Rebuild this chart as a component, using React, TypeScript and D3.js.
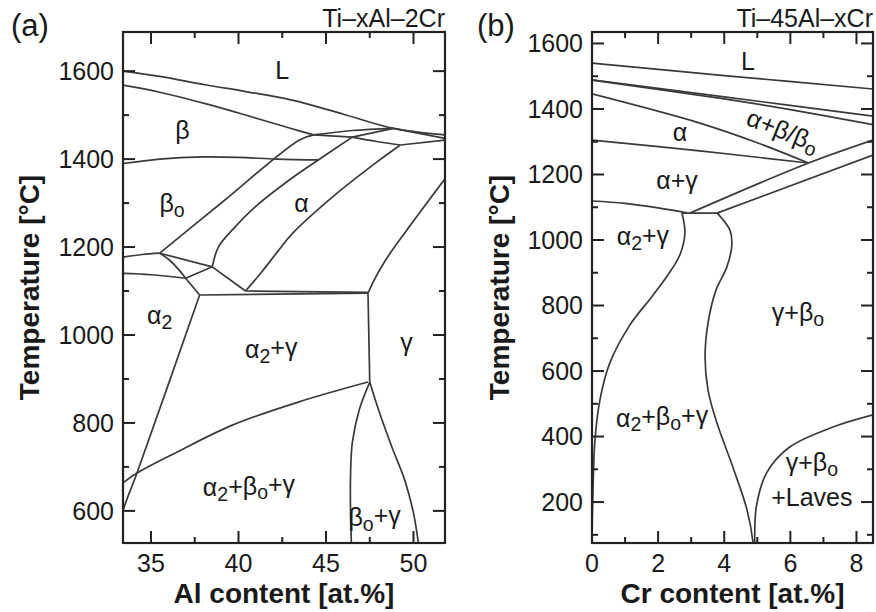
import React from "react";
import * as d3 from "d3";

type P = [number, number];

// ---------- Panel (a): Ti–xAl–2Cr ----------
const aTitle = "Ti\u2013xAl\u20132Cr";
const aXTicks = [35, 40, 45, 50];
const aXMinor = [37.5, 42.5, 47.5];
const aYTicks = [600, 800, 1000, 1200, 1400, 1600];
const aYMinor = [700, 900, 1100, 1300, 1500];

const aLiquidus: P[] = [[33.4, 1600], [35.5, 1588], [38.1, 1569], [40.5, 1553], [43.06, 1534], [46, 1502], [48.85, 1470], [51.8, 1455]];
const aBetaSolidus: P[] = [[33.4, 1568], [35.5, 1552], [38.1, 1526], [40.5, 1499], [43.06, 1469], [44.3, 1455]];
const aPeritecticUp: P[] = [[44.3, 1455], [46.5, 1465], [48.85, 1470]];
const aPeritecticLow: P[] = [[44.3, 1455], [46.5, 1450]];
const aPeritecticMid: P[] = [[46.5, 1450], [48.85, 1470]];
const aAlphaSolidus: P[] = [[46.5, 1450], [47.9, 1440], [49.25, 1432]];
const aRightTop1: P[] = [[49.25, 1432], [51.8, 1443]];
const aRightTop2: P[] = [[48.85, 1470], [51.8, 1447]];
const aBetaAlpha: P[] = [[35.5, 1186], [39.1, 1303], [43.46, 1443], [44.3, 1455]];
const aAlphaBeta: P[] = [[38.5, 1155], [38.85, 1200], [39.65, 1239], [40.97, 1292], [43.06, 1357], [44.6, 1399], [46.5, 1450]];
const aAlphaGamma: P[] = [[40.4, 1100], [41.3, 1142], [42.3, 1193], [43.06, 1230], [45.5, 1318], [47.9, 1393], [49.25, 1432]];
const aGammaAlpha: P[] = [[47.4, 1095], [47.75, 1125], [48.4, 1170], [49.5, 1232], [51.8, 1355]];
const aBetaOrder: P[] = [[33.4, 1390], [35.5, 1400], [37.9, 1405], [40, 1404], [42.2, 1400], [44.6, 1398]];
const aLeftUpper: P[] = [[33.4, 1177], [34.5, 1183], [35.5, 1186]];
const aJ5J6: P[] = [[35.5, 1186], [36.07, 1170], [36.6, 1148], [36.98, 1129], [37.78, 1091]];
const aJ5J7: P[] = [[35.5, 1186], [38.5, 1155]];
const aLeftLower: P[] = [[33.4, 1140], [35, 1137], [36.98, 1129]];
const aJunctionJ7: P[] = [[36.98, 1129], [38.5, 1155]];
const aJ7J8: P[] = [[38.5, 1155], [40.4, 1100]];
const aEutectoid1: P[] = [[37.78, 1091], [47.4, 1095]];
const aEutectoid2: P[] = [[40.4, 1100], [47.4, 1097]];
const aAlpha2Gamma: P[] = [[37.78, 1091], [34.2, 686], [33.4, 600], [33.25, 560]];
const aEutectoidLow: P[] = [[33.4, 664], [34.2, 686], [36.5, 734], [39.65, 795], [43.46, 848], [47.4, 893]];
const aVertical: P[] = [[47.4, 1095], [47.5, 893]];
const aBetaGammaLeft: P[] = [[47.5, 893], [46.9, 830], [46.5, 754], [46.4, 678], [46.4, 602], [46.45, 527]];
const aBetaGammaRight: P[] = [[47.5, 893], [48.0, 830], [48.76, 746], [49.5, 670], [50.0, 595], [50.28, 527]];

const aLines: P[][] = [aLiquidus, aBetaSolidus, aPeritecticUp, aPeritecticLow, aPeritecticMid, aAlphaSolidus, aRightTop1, aRightTop2,
  aBetaAlpha, aAlphaBeta, aAlphaGamma, aGammaAlpha, aBetaOrder, aLeftUpper, aJ5J6, aJ5J7, aLeftLower, aJunctionJ7, aJ7J8,
  aEutectoid1, aEutectoid2, aAlpha2Gamma, aEutectoidLow, aVertical, aBetaGammaLeft, aBetaGammaRight];

const aLabelText = ["L", "β", "β_o", "α", "α_2", "α_2+γ", "γ", "α_2+β_o+γ", "β_o+γ"];
const aLabelX = [42.5, 36.8, 36.2, 43.6, 35.5, 41.87, 49.6, 40.6, 47.78];
const aLabelT = [1603, 1465, 1300, 1300, 1045, 968, 984, 654, 586];

// ---------- Panel (b): Ti–45Al–xCr ----------
const bTitle = "Ti\u201345Al\u2013xCr";
const bXTicks = [0, 2, 4, 6, 8];
const bXMinor = [1, 3, 5, 7];
const bYTicks = [200, 400, 600, 800, 1000, 1200, 1400, 1600];
const bYMinor = [100, 300, 500, 700, 900, 1100, 1300, 1500];

const bLiquidus: P[] = [[0, 1540], [4, 1502], [8.5, 1461]];
const bSolidusA: P[] = [[0, 1489], [4, 1437], [8.5, 1378]];
const bSolidusB: P[] = [[0, 1488], [4, 1431], [6, 1398], [8.5, 1352]];
const bAlphaTop: P[] = [[0, 1446], [3.26, 1357], [5, 1297], [6.55, 1235]];
const bAlphaBottom: P[] = [[0, 1305], [3.26, 1272], [6.55, 1235]];
const bGammaBetaUpper: P[] = [[2.96, 1082], [6.55, 1235], [8.5, 1305]];
const bGammaBetaLower: P[] = [[3.78, 1082], [8.5, 1259]];
const bAlpha2GammaTop: P[] = [[0, 1119], [1.0, 1112], [2.0, 1098], [2.87, 1083]];
const bEutectoid: P[] = [[2.72, 1082], [3.85, 1082]];
const bAlpha2Right: P[] = [[2.72, 1083], [2.81, 1022], [2.66, 955], [2.3, 894], [1.81, 827], [1.15, 741], [0.54, 625], [0.24, 512], [0.09, 390], [0.03, 237], [0, 84], [0, 60]];
const bGammaBetaCurve: P[] = [[3.78, 1083], [4.17, 1031], [4.23, 985], [4.08, 918], [3.75, 847], [3.51, 747], [3.42, 643], [3.51, 542], [3.78, 441], [4.26, 307], [4.69, 176], [4.87, 78], [4.88, 60]];
const bLaves: P[] = [[4.92, 60], [4.92, 78], [4.97, 185], [5.28, 289], [5.98, 368], [7.29, 429], [8.5, 466]];

const bLines: P[][] = [bLiquidus, bSolidusA, bSolidusB, bAlphaTop, bAlphaBottom, bGammaBetaUpper, bGammaBetaLower,
  bAlpha2GammaTop, bEutectoid, bAlpha2Right, bGammaBetaCurve, bLaves];

const bLabelText = ["L", "α", "α+β/β_o", "α+γ", "α_2+γ", "γ+β_o", "α_2+β_o+γ", "γ+β_o", "+Laves"];
const bLabelX = [4.72, 2.66, 5.78, 2.57, 1.54, 6.23, 2.12, 6.65, 6.65];
const bLabelT = [1547, 1330, 1335, 1183, 1010, 780, 457, 322, 214];
const bLabelAngle = [0, 0, 22, 0, 0, 0, 0, 0, 0];

// ---------- layout ----------
const FONT = "'Liberation Sans', Arial, Helvetica, sans-serif";
const TOP = 32;
const BOTTOM = 543;
const LINE_COLOR = "#3a3a3a";
const TEXT_COLOR = "#1a1a1a";

function renderLabel(s: string) {
  // "_x" marks a single subscript character
  const segs: { t: string; sub: boolean }[] = [];
  let buf = "";
  for (let i = 0; i < s.length; i++) {
    if (s[i] === "_" && i + 1 < s.length) {
      if (buf) segs.push({ t: buf, sub: false });
      buf = "";
      segs.push({ t: s[i + 1], sub: true });
      i++;
    } else {
      buf += s[i];
    }
  }
  if (buf) segs.push({ t: buf, sub: false });
  let prevSub = false;
  return segs.map((sg, k) => {
    let dy: string | undefined;
    if (sg.sub) dy = "0.25em";
    else if (prevSub) dy = "-0.25em";
    prevSub = sg.sub;
    return (
      <tspan key={k} dy={dy} fontSize={sg.sub ? "0.78em" : undefined}>{sg.t}</tspan>
    );
  });
}

interface PanelProps {
  id: string;
  left: number;
  right: number;
  xDomain: [number, number];
  yDomain: [number, number];
  xTicks: number[];
  xMinor: number[];
  yTicks: number[];
  yMinor: number[];
  lines: P[][];
  labelText: string[];
  labelX: number[];
  labelT: number[];
  labelAngle?: number[];
  title: string;
  tag: string;
  tagX: number;
  xTitle: string;
  yTitleX: number;
}

function Panel(p: PanelProps) {
  const x = d3.scaleLinear().domain(p.xDomain).range([p.left, p.right]);
  const y = d3.scaleLinear().domain(p.yDomain).range([BOTTOM, TOP]);
  const line = d3.line<P>().x((d) => x(d[0])).y((d) => y(d[1])).curve(d3.curveCatmullRom.alpha(0.5));
  const major = 12;
  const minor = 6;
  const cx = (p.left + p.right) / 2;
  const cy = (TOP + BOTTOM) / 2;
  return (
    <g>
      <defs>
        <clipPath id={"clip-" + p.id}>
          <rect x={p.left} y={TOP} width={p.right - p.left} height={BOTTOM - TOP} />
        </clipPath>
      </defs>
      <g clipPath={`url(#clip-${p.id})`} fill="none" stroke={LINE_COLOR} strokeWidth={1.7} strokeLinejoin="round">
        {p.lines.map((l, i) => (
          <path key={i} d={line(l) || ""} />
        ))}
      </g>
      <g stroke="#222" strokeWidth={2}>
        {p.xTicks.map((t) => (
          <g key={"xt" + t}>
            <line x1={x(t)} x2={x(t)} y1={BOTTOM} y2={BOTTOM - major} />
            <line x1={x(t)} x2={x(t)} y1={TOP} y2={TOP + major} />
          </g>
        ))}
        {p.xMinor.map((t) => (
          <g key={"xm" + t}>
            <line x1={x(t)} x2={x(t)} y1={BOTTOM} y2={BOTTOM - minor} />
            <line x1={x(t)} x2={x(t)} y1={TOP} y2={TOP + minor} />
          </g>
        ))}
        {p.yTicks.map((t) => (
          <g key={"yt" + t}>
            <line x1={p.left} x2={p.left + major} y1={y(t)} y2={y(t)} />
            <line x1={p.right} x2={p.right - major} y1={y(t)} y2={y(t)} />
          </g>
        ))}
        {p.yMinor.map((t) => (
          <g key={"ym" + t}>
            <line x1={p.left} x2={p.left + minor} y1={y(t)} y2={y(t)} />
            <line x1={p.right} x2={p.right - minor} y1={y(t)} y2={y(t)} />
          </g>
        ))}
      </g>
      <rect x={p.left} y={TOP} width={p.right - p.left} height={BOTTOM - TOP} fill="none" stroke="#222" strokeWidth={2.2} />
      <g fontFamily={FONT} fontSize={25} fill={TEXT_COLOR}>
        {p.xTicks.map((t) => (
          <text key={"xl" + t} x={x(t)} y={572} textAnchor="middle">{t}</text>
        ))}
        {p.yTicks.map((t) => (
          <text key={"yl" + t} x={p.left - 9} y={y(t)} dy="0.35em" textAnchor="end">{t}</text>
        ))}
      </g>
      <g fontFamily={FONT} fontSize={25} fill={TEXT_COLOR}>
        {p.labelText.map((s, i) => {
          const lx = x(p.labelX[i]);
          const ly = y(p.labelT[i]);
          const ang = p.labelAngle ? p.labelAngle[i] : 0;
          return (
            <text key={"lab" + i} x={lx} y={ly} dy="0.35em" textAnchor="middle"
              transform={ang ? `rotate(${ang},${lx},${ly})` : undefined}>
              {renderLabel(s)}
            </text>
          );
        })}
      </g>
      <text x={p.right} y={27} textAnchor="end" fontFamily={FONT} fontSize={25} fill={TEXT_COLOR}>{p.title}</text>
      <text x={p.tagX} y={36} fontFamily={FONT} fontSize={31} fill={TEXT_COLOR}>{p.tag}</text>
      <text x={cx} y={603} textAnchor="middle" fontFamily={FONT} fontSize={28} fontWeight="bold" fill={TEXT_COLOR}>{p.xTitle}</text>
      <text x={p.yTitleX} y={cy} textAnchor="middle" fontFamily={FONT} fontSize={28} fontWeight="bold" fill={TEXT_COLOR}
        transform={`rotate(-90,${p.yTitleX},${cy})`}>Temperature [°C]</text>
    </g>
  );
}

export default function App() {
  return (
    <svg width={876} height={612} viewBox="0 0 876 612" style={{ display: "block", position: "absolute", left: 0, top: 0, background: "#fff" }}>
      <rect x={0} y={0} width={876} height={612} fill="#fff" />
      <Panel id="a" left={123} right={445} xDomain={[33.4, 51.8]} yDomain={[527, 1689]}
        xTicks={aXTicks} xMinor={aXMinor} yTicks={aYTicks} yMinor={aYMinor} lines={aLines}
        labelText={aLabelText} labelX={aLabelX} labelT={aLabelT}
        title={aTitle} tag="(a)" tagX={11} xTitle="Al content [at.%]" yTitleX={39} />
      <Panel id="b" left={592} right={873} xDomain={[0, 8.5]} yDomain={[75, 1635]}
        xTicks={bXTicks} xMinor={bXMinor} yTicks={bYTicks} yMinor={bYMinor} lines={bLines}
        labelText={bLabelText} labelX={bLabelX} labelT={bLabelT} labelAngle={bLabelAngle}
        title={bTitle} tag="(b)" tagX={477} xTitle="Cr content [at.%]" yTitleX={509} />
    </svg>
  );
}
